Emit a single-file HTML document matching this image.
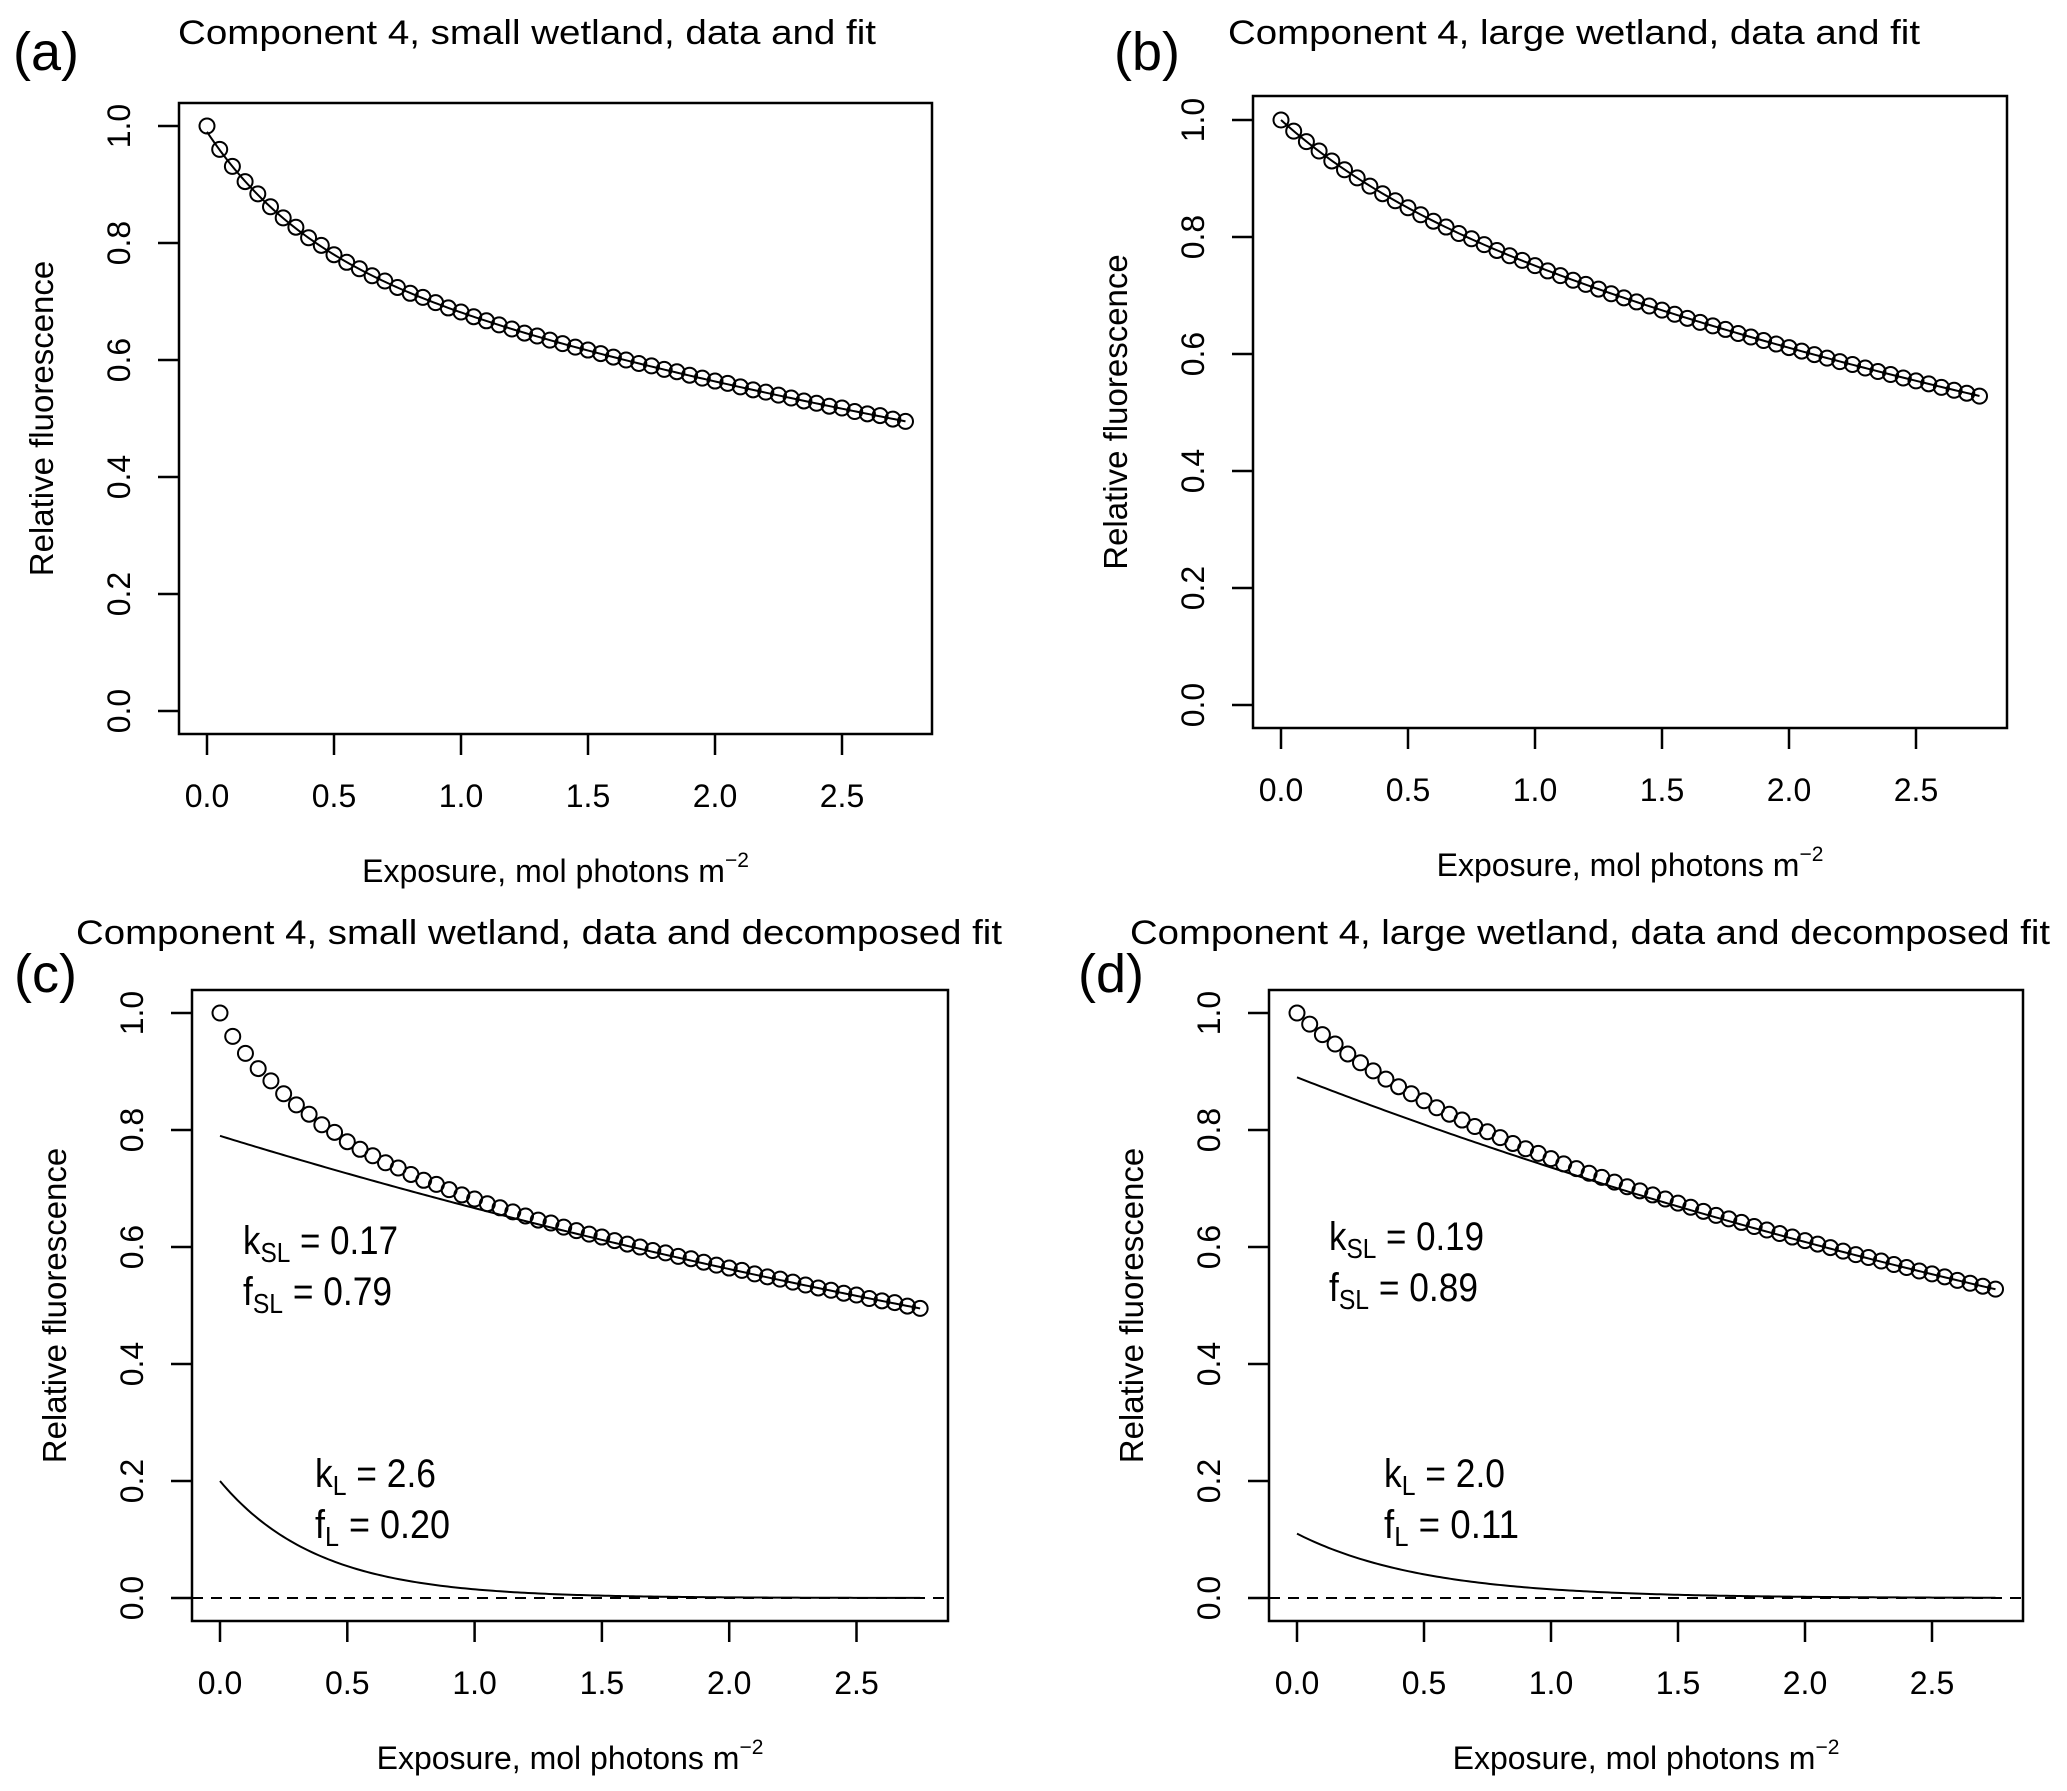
<!DOCTYPE html>
<html><head><meta charset="utf-8"><style>
html,body{margin:0;padding:0;background:#fff;}
svg{display:block;font-family:"Liberation Sans",sans-serif;}
</style></head><body>
<svg id="fig" width="2067" height="1791" viewBox="0 0 2067 1791" xmlns="http://www.w3.org/2000/svg"></svg>
<script>
// ---- data ----
const xTicks = [0, 0.5, 1.0, 1.5, 2.0, 2.5];
const xTickLabels = ["0.0", "0.5", "1.0", "1.5", "2.0", "2.5"];
const yTicks = [0, 0.2, 0.4, 0.6, 0.8, 1.0];
const yTickLabels = ["0.0", "0.2", "0.4", "0.6", "0.8", "1.0"];
const exposureStart = 0, exposureStep = 0.05;
const smallWetland = [1.000,0.960,0.931,0.905,0.884,0.862,0.843,0.827,0.809,0.796,0.780,0.767,0.756,0.744,0.735,0.724,0.714,0.707,0.698,0.689,0.682,0.674,0.667,0.660,0.653,0.646,0.641,0.634,0.628,0.622,0.617,0.611,0.605,0.600,0.594,0.590,0.584,0.580,0.574,0.569,0.564,0.560,0.554,0.549,0.545,0.540,0.535,0.530,0.526,0.521,0.518,0.512,0.508,0.505,0.499,0.495];
const largeWetland = [1.000,0.981,0.963,0.947,0.930,0.915,0.901,0.887,0.874,0.862,0.850,0.838,0.827,0.817,0.806,0.797,0.787,0.777,0.768,0.760,0.751,0.742,0.734,0.726,0.719,0.711,0.703,0.696,0.689,0.682,0.675,0.668,0.661,0.654,0.648,0.642,0.635,0.629,0.623,0.617,0.611,0.605,0.599,0.593,0.587,0.582,0.576,0.570,0.565,0.559,0.554,0.549,0.543,0.538,0.533,0.528];
const smallSlowK = [0.17], smallSlowF = [0.79], smallFastK = [2.6], smallFastF = [0.20];
const largeSlowK = [0.19], largeSlowF = [0.89], largeFastK = [2.0], largeFastF = [0.11];

const NS = "http://www.w3.org/2000/svg";
const fig = document.getElementById('fig');
function mk(tag, attrs, parent, text){
  const e = document.createElementNS(NS, tag);
  for (const k in attrs) e.setAttribute(k, attrs[k]);
  if (text !== undefined) e.textContent = text;
  (parent || fig).appendChild(e);
  return e;
}

const panels = [
  {id:'a', L:179, R:932, T:103, B:734, x0:207, xu:254, y0:711, yu:585, data:smallWetland, sk:smallSlowK[0], sf:smallSlowF[0], fk:smallFastK[0], ff:smallFastF[0], decomposed:false,
   title:"Component 4, small wetland, data and fit", tx:178, ty:44, tw:698, lab:"(a)", lx:13, ly:70},
  {id:'b', L:1253, R:2007, T:96, B:728, x0:1281, xu:254, y0:705, yu:585, data:largeWetland, sk:largeSlowK[0], sf:largeSlowF[0], fk:largeFastK[0], ff:largeFastF[0], decomposed:false,
   title:"Component 4, large wetland, data and fit", tx:1228, ty:44, tw:692, lab:"(b)", lx:1114, ly:70},
  {id:'c', L:192, R:948, T:990, B:1621, x0:220, xu:254.6, y0:1598, yu:585, data:smallWetland, sk:smallSlowK[0], sf:smallSlowF[0], fk:smallFastK[0], ff:smallFastF[0], decomposed:true,
   title:"Component 4, small wetland, data and decomposed fit", tx:76, ty:944, tw:926, lab:"(c)", lx:14, ly:992,
   ann:[{x:243,y:1254,m:"k",s:"SL",v:" = 0.17",w:155},{x:243,y:1305,m:"f",s:"SL",v:" = 0.79",w:149},{x:315,y:1487,m:"k",s:"L",v:" = 2.6",w:121},{x:315,y:1538,m:"f",s:"L",v:" = 0.20",w:135}]},
  {id:'d', L:1269, R:2023, T:990, B:1621, x0:1297, xu:254, y0:1598, yu:585, data:largeWetland, sk:largeSlowK[0], sf:largeSlowF[0], fk:largeFastK[0], ff:largeFastF[0], decomposed:true,
   title:"Component 4, large wetland, data and decomposed fit", tx:1130, ty:944, tw:920, lab:"(d)", lx:1078, ly:992,
   ann:[{x:1329,y:1250,m:"k",s:"SL",v:" = 0.19",w:155},{x:1329,y:1301,m:"f",s:"SL",v:" = 0.89",w:149},{x:1384,y:1487,m:"k",s:"L",v:" = 2.0",w:121},{x:1384,y:1538,m:"f",s:"L",v:" = 0.11",w:135}]}
];

panels.forEach(p => {
  const g = mk('g', {});
  
  
  const sx = v => p.x0 + v * p.xu;
  const sy = v => p.y0 - v * p.yu;

  const lab = mk('text', {x:p.lx, y:p.ly, 'font-size':54, 'font-family':'"Liberation Sans",sans-serif'}, g, p.lab);
  
  
  const t = mk('text', {x:p.tx, y:p.ty, 'font-size':34, textLength:p.tw, lengthAdjust:'spacingAndGlyphs'}, g, p.title);
  
  

  const box = mk('rect', {x:p.L, y:p.T, width:p.R-p.L, height:p.B-p.T, fill:'none', stroke:'#000', 'stroke-width':2.5}, g);
  
  

  xTicks.forEach((v, i) => {
    const tk = mk('line', {x1:sx(v), x2:sx(v), y1:p.B, y2:p.B+21, stroke:'#000', 'stroke-width':2.5}, g);
    
    
    const tl = mk('text', {x:sx(v), y:p.B+73, 'font-size':32, 'text-anchor':'middle'}, g, xTickLabels[i]);
    
    
  });
  yTicks.forEach((v, i) => {
    const tk = mk('line', {x1:p.L-21, x2:p.L, y1:sy(v), y2:sy(v), stroke:'#000', 'stroke-width':2.5}, g);
    
    
    const cx = p.L - 60 + 11;
    const tl = mk('text', {x:cx, y:sy(v), 'font-size':32, 'text-anchor':'middle', transform:`rotate(-90 ${cx} ${sy(v)})`}, g, yTickLabels[i]);
    
    
  });

  const xt = mk('text', {x:(p.L+p.R)/2, y:p.B+148, 'font-size':32, 'text-anchor':'middle'}, g);
  
  
  mk('tspan', {}, xt, 'Exposure, mol photons m');
  mk('tspan', {dy:-15, 'font-size':21}, xt, '\u22122');
  const ycx = p.L - 126, ycy = (p.T + p.B)/2;
  const yt = mk('text', {x:ycx, y:ycy, 'font-size':33, 'text-anchor':'middle', transform:`rotate(-90 ${ycx} ${ycy})`}, g, 'Relative fluorescence');
  
  

  const xs = p.data.map((_, i) => exposureStart + i * exposureStep);
  const xmax = xs[xs.length - 1];
  const curve = (f) => {
    let d = '';
    for (let i = 0; i <= 200; i++) { const x = xmax * i / 200; d += (i ? 'L' : 'M') + sx(x).toFixed(2) + ' ' + sy(f(x)).toFixed(2); }
    return d;
  };
  if (!p.decomposed) {
    const fl = mk('path', {d:curve(x => p.sf*Math.exp(-p.sk*x) + p.ff*Math.exp(-p.fk*x)), fill:'none', stroke:'#000', 'stroke-width':2}, g);
    
    
  } else {
    const z = mk('line', {x1:p.L, x2:p.R, y1:sy(0), y2:sy(0), stroke:'#000', 'stroke-width':2, 'stroke-dasharray':'11 8'}, g);
    
    
    const s1 = mk('path', {d:curve(x => p.sf*Math.exp(-p.sk*x)), fill:'none', stroke:'#000', 'stroke-width':2}, g);
    
    
    const s2 = mk('path', {d:curve(x => p.ff*Math.exp(-p.fk*x)), fill:'none', stroke:'#000', 'stroke-width':2}, g);
    
    
    p.ann.forEach(a => {
      const at = mk('text', {x:a.x, y:a.y, 'font-size':40, textLength:a.w, lengthAdjust:'spacingAndGlyphs'}, g);
      
      
      mk('tspan', {}, at, a.m);
      mk('tspan', {dy:8, 'font-size':28}, at, a.s);
      mk('tspan', {dy:-8}, at, a.v);
    });
  }
  p.data.forEach((v, i) => {
    const c = mk('circle', {cx:sx(xs[i]), cy:sy(v), r:7.5, fill:'none', stroke:'#000', 'stroke-width':2}, g);
    
    
  });
});
</script>
</body></html>
